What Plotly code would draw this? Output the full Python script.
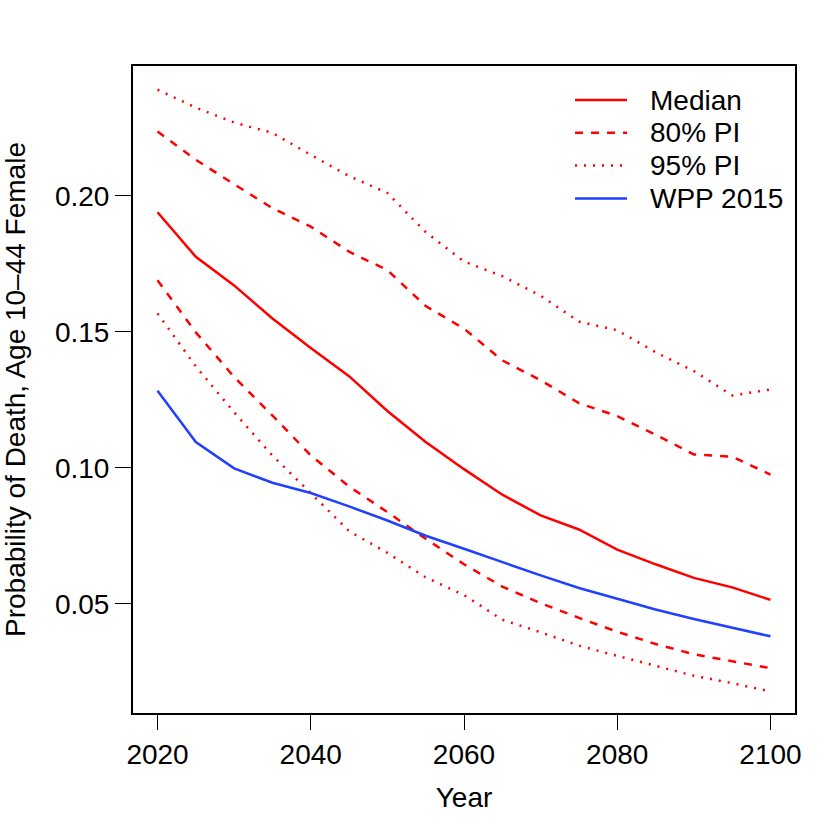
import plotly.graph_objects as go

years = [2020, 2025, 2030, 2035, 2040, 2045, 2050, 2055, 2060, 2065, 2070, 2075, 2080, 2085, 2090, 2095, 2100]

median = [0.1940, 0.1776, 0.1671, 0.1549, 0.1441, 0.1337, 0.1209, 0.1095, 0.0995, 0.0901, 0.0825, 0.0773, 0.0699, 0.0645, 0.0595, 0.0560, 0.0514]
pi80_upper = [0.2237, 0.2133, 0.2043, 0.1955, 0.1887, 0.1795, 0.1727, 0.1595, 0.1512, 0.1395, 0.1322, 0.1238, 0.1190, 0.1122, 0.1049, 0.1041, 0.0975]
pi80_lower = [0.1690, 0.1498, 0.1334, 0.1192, 0.1046, 0.0931, 0.0837, 0.0739, 0.0645, 0.0563, 0.0502, 0.0448, 0.0397, 0.0352, 0.0314, 0.0289, 0.0263]
pi95_upper = [0.2391, 0.2325, 0.2270, 0.2232, 0.2151, 0.2073, 0.2011, 0.1867, 0.1759, 0.1705, 0.1633, 0.1538, 0.1506, 0.1425, 0.1356, 0.1266, 0.1288]
pi95_lower = [0.1568, 0.1373, 0.1204, 0.1045, 0.0907, 0.0767, 0.0687, 0.0597, 0.0532, 0.0441, 0.0395, 0.0346, 0.0308, 0.0271, 0.0235, 0.0208, 0.0177]
wpp2015 = [0.1283, 0.1095, 0.0998, 0.0945, 0.0907, 0.0858, 0.0806, 0.0750, 0.0702, 0.0653, 0.0604, 0.0558, 0.0518, 0.0479, 0.0444, 0.0411, 0.0380]

x_ticks = [2020, 2040, 2060, 2080, 2100]
y_ticks = [0.05, 0.10, 0.15, 0.20]
y_tick_labels = ["0.05", "0.10", "0.15", "0.20"]

legend_labels = ["Median", "80% PI", "95% PI", "WPP 2015"]

RED = "#FF0000"
BLUE = "#2040FF"
LW = 2.5
DASH = "8px,8px"
DOT = "2px,7px"
FONT = "Liberation Sans, Arial, Helvetica, sans-serif"
FS = 28

legend_styles = [(RED, "solid"), (RED, DASH), (RED, DOT), (BLUE, "solid")]

fig = go.Figure()
fig.add_trace(go.Scatter(x=years, y=median, mode="lines", name="Median",
                         line=dict(color=RED, width=LW)))
fig.add_trace(go.Scatter(x=years, y=pi80_upper, mode="lines", name="80% PI upper",
                         line=dict(color=RED, width=LW, dash=DASH)))
fig.add_trace(go.Scatter(x=years, y=pi80_lower, mode="lines", name="80% PI lower",
                         line=dict(color=RED, width=LW, dash=DASH)))
fig.add_trace(go.Scatter(x=years, y=pi95_upper, mode="lines", name="95% PI upper",
                         line=dict(color=RED, width=LW, dash=DOT)))
fig.add_trace(go.Scatter(x=years, y=pi95_lower, mode="lines", name="95% PI lower",
                         line=dict(color=RED, width=LW, dash=DOT)))
fig.add_trace(go.Scatter(x=years, y=wpp2015, mode="lines", name="WPP 2015",
                         line=dict(color=BLUE, width=LW)))

# Legend drawn in paper coordinates (plot area is 662 x 647 px)
PW, PH = 662.0, 647.0
leg_x0 = 442.0 / PW   # start of sample line
leg_x1 = 494.0 / PW   # end of sample line
leg_tx = 515.0 / PW   # text start
leg_top = 34.0        # px below plot top of first row
leg_step = 32.8       # px between rows
for i, (lab, (col, dsh)) in enumerate(zip(legend_labels, legend_styles)):
    yp = 1.0 - (leg_top + i * leg_step) / PH
    fig.add_shape(type="line", xref="paper", yref="paper",
                  x0=leg_x0, x1=leg_x1, y0=yp, y1=yp,
                  line=dict(color=col, width=LW, dash=dsh))
    fig.add_annotation(xref="paper", yref="paper", x=leg_tx, y=yp,
                       text=lab, showarrow=False, xanchor="left", yanchor="middle",
                       font=dict(size=FS, color="black", family=FONT))

fig.update_layout(
    width=830, height=830,
    margin=dict(l=133, r=35, t=66, b=117),
    paper_bgcolor="white", plot_bgcolor="white",
    font=dict(family=FONT, size=FS, color="black"),
    showlegend=False,
)
fig.update_xaxes(
    range=[2016.8, 2103.2], tickvals=x_ticks, ticktext=[str(v) for v in x_ticks],
    showgrid=False, zeroline=False,
    showline=True, linecolor="black", linewidth=2, mirror=True,
    ticks="outside", ticklen=15, tickwidth=1, tickcolor="black",
    tickfont=dict(size=FS),
    title=dict(text="Year", font=dict(size=FS), standoff=19),
)
fig.update_yaxes(
    range=[0.0098, 0.2478], tickvals=y_ticks, ticktext=y_tick_labels,
    showgrid=False, zeroline=False,
    showline=True, linecolor="black", linewidth=2, mirror=True,
    ticks="outside", ticklen=16, tickwidth=1, tickcolor="black",
    tickfont=dict(size=FS),
    title=dict(text="Probability of Death, Age 10\u201344 Female", font=dict(size=FS), standoff=24),
)

fig.write_html("out.html",
               config={"displayModeBar": False},
               post_script="document.body.style.margin='0';document.body.style.padding='0';document.documentElement.style.overflow='hidden';")
